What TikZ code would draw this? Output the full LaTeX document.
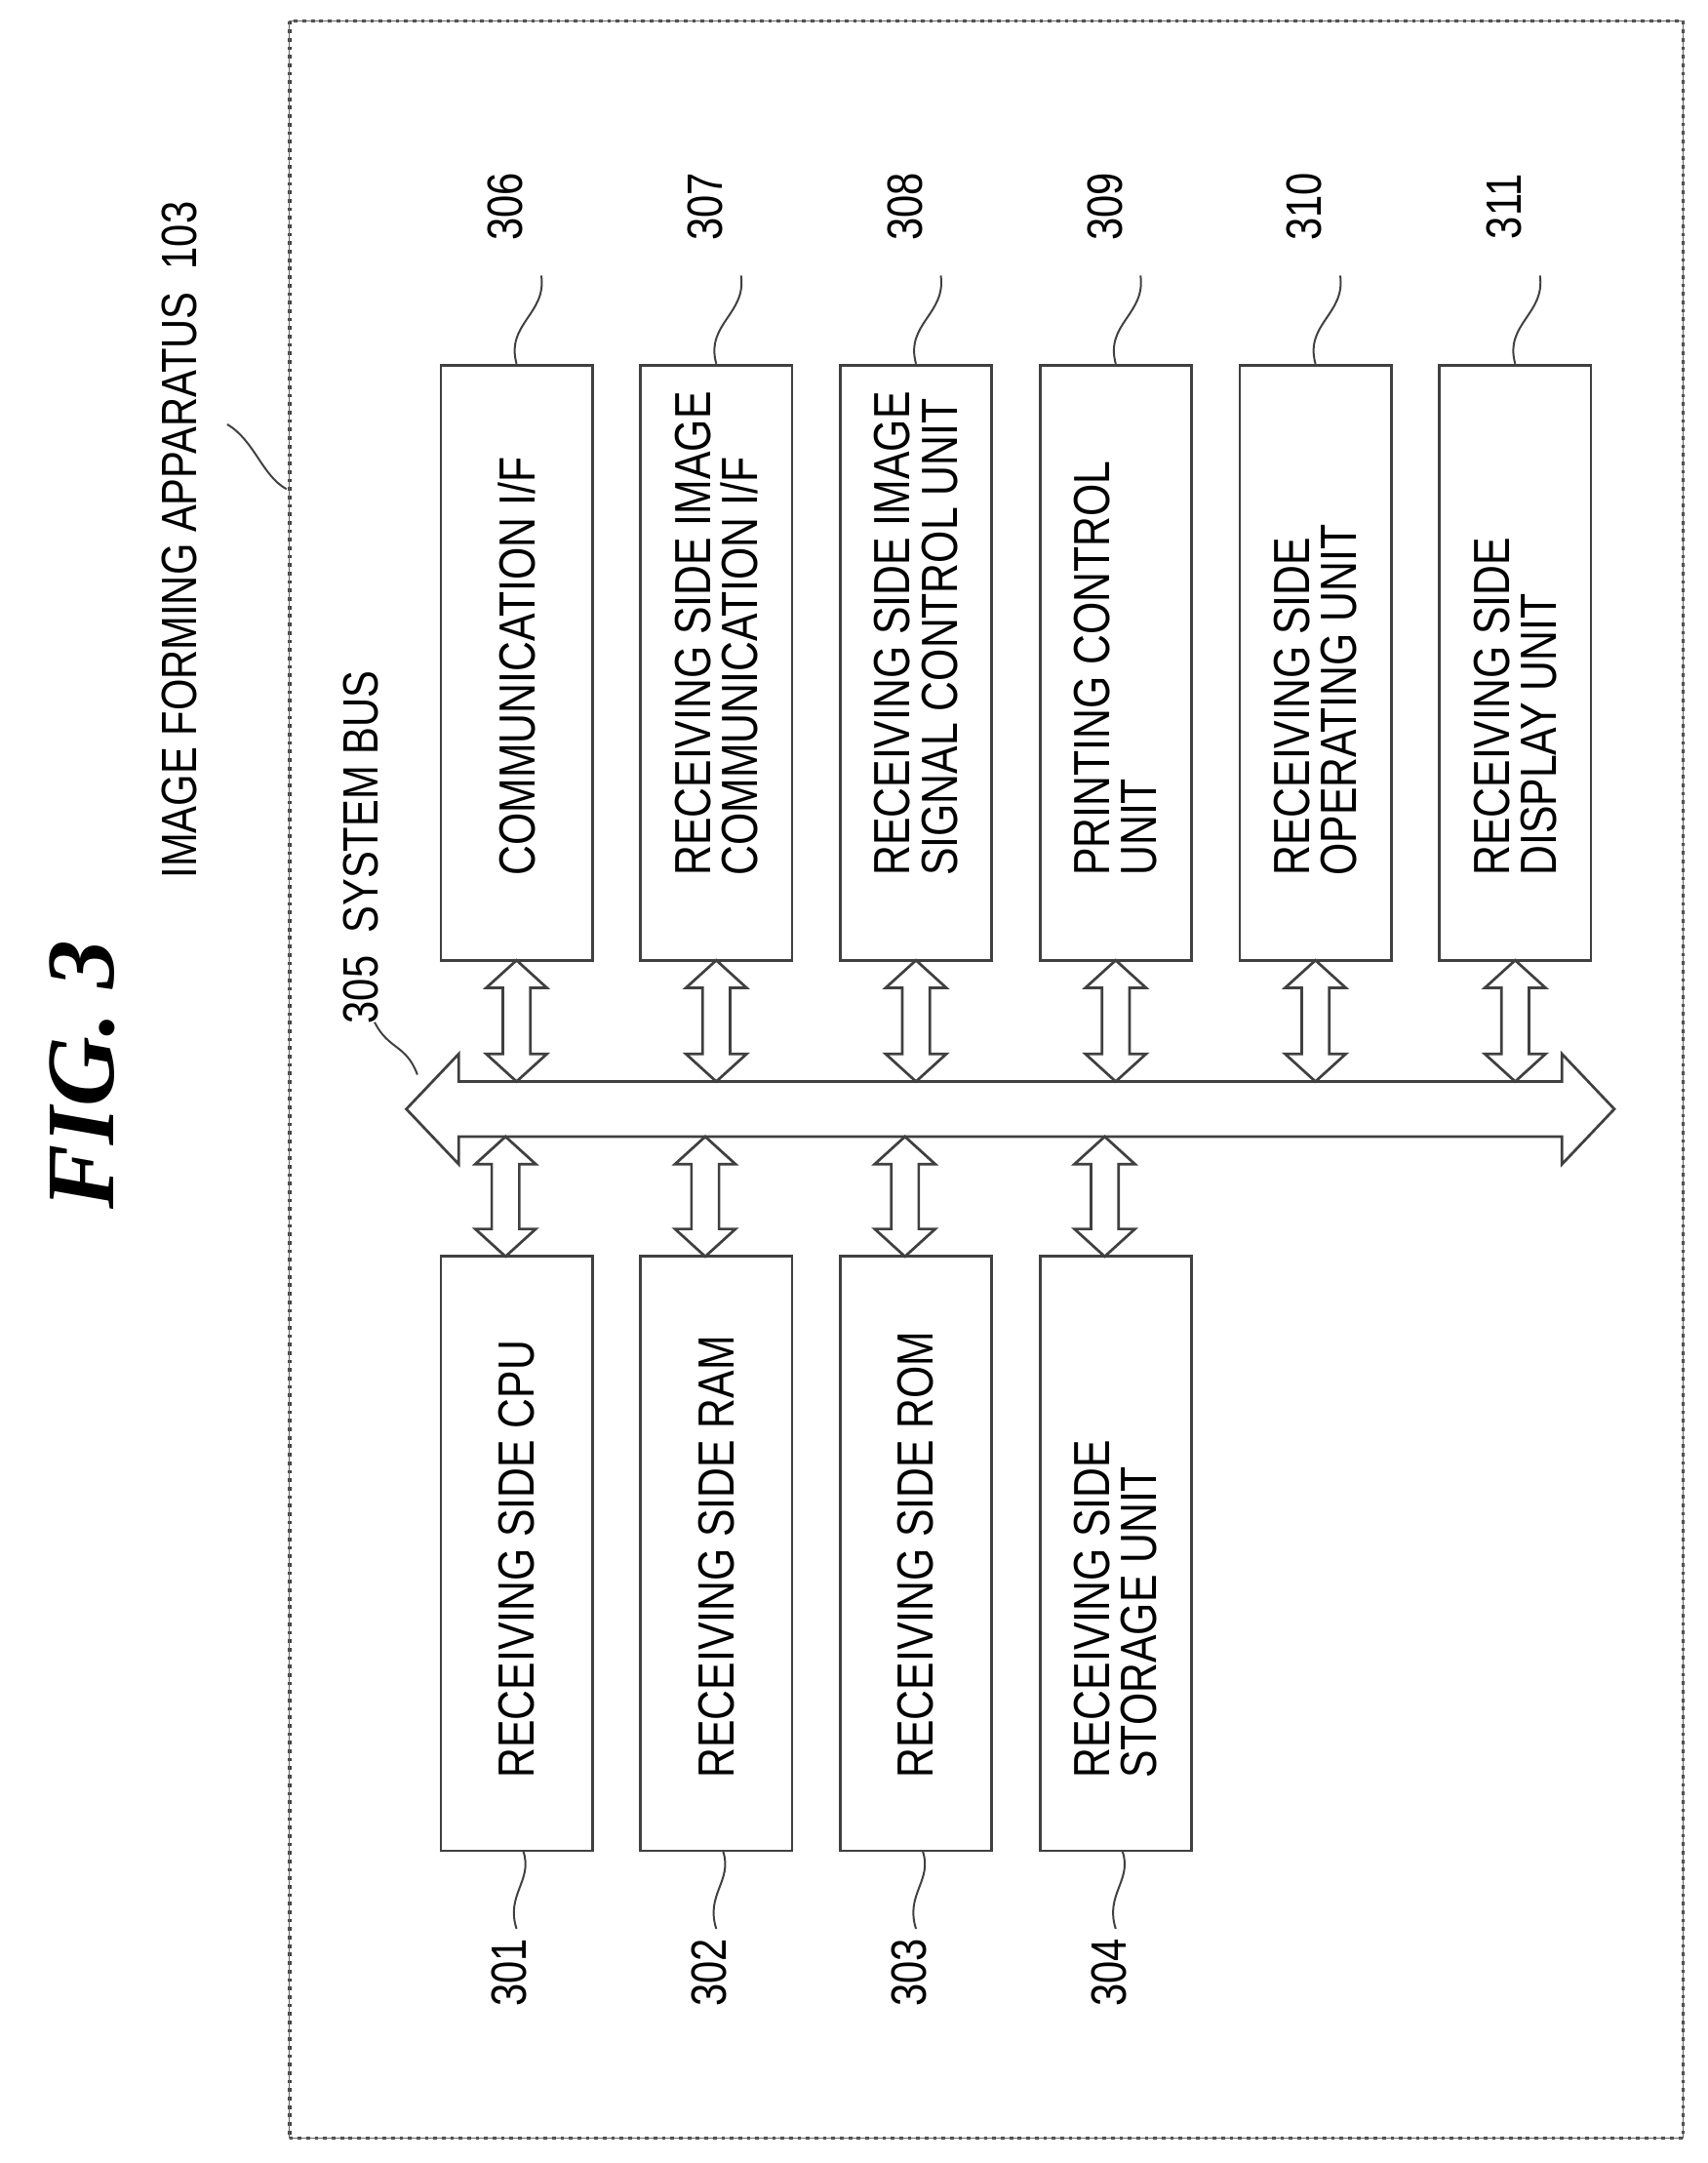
\documentclass[tikz,border=0pt]{standalone}
\usepackage{fontspec}
\setmainfont{Liberation Sans}[FakeStretch=0.82]
\newfontfamily\figfont{Liberation Serif}
\begin{document}
\begin{tikzpicture}[x=0.02cm,y=-0.02cm,
  ln/.style={draw=black!75,line width=1.1pt},
  box/.style={ln,rectangle,rotate=90,minimum width=8.64cm,minimum height=2.2cm,inner sep=0pt},
  txt/.style={rotate=90,anchor=west,align=left,font=\fontsize{21}{19.5}\selectfont,inner sep=0pt},
  num/.style={rotate=90,font=\fontsize{20.5}{22}\selectfont,inner sep=0pt},
  lead/.style={draw=black!75,line width=0.8pt}]
\useasboundingbox (0,0) rectangle (1240,1570);
\node[draw=black!75,line width=1.5pt,dotted,minimum width=20.24cm,minimum height=30.74cm,inner sep=0pt] (frame) at (716,783.5) {};
\node[draw=black!60,line width=0.6pt,minimum width=20.24cm,minimum height=30.74cm,inner sep=0pt] (frame2) at (716,783.5) {};
\node[rotate=90,font=\figfont\fontsize{40}{44}\selectfont\bfseries\itshape] (fig) at (60,780) {FIG. 3};
\node[num] (ifa) at (130,392) {IMAGE FORMING APPARATUS\ \ 103};
\coordinate (fl) at (208,355);
\draw[lead] (fl) .. controls (190,345) and (185,320) .. (165,308);
% bus
\draw[ln] (295,805) -- (333,765) -- (333,785) -- (1134,785) -- (1134,765) -- (1172,805)
  -- (1134,845) -- (1134,825) -- (333,825) -- (333,845) -- cycle;
\node[num] (n305) at (262,615) {305\ \ SYSTEM BUS};
\draw[lead] (272,742) .. controls (282,762) and (295,758) .. (303,780);
% top boxes
\foreach \i/\x/\t/\n in {1/375/{COMMUNICATION I/F}/306,
  2/520/{RECEIVING SIDE IMAGE\\COMMUNICATION I/F}/307,
  3/665/{RECEIVING SIDE IMAGE\\SIGNAL CONTROL UNIT}/308,
  4/810/{PRINTING CONTROL\\UNIT}/309,
  5/955/{RECEIVING SIDE\\OPERATING UNIT}/310,
  6/1100/{RECEIVING SIDE\\DISPLAY UNIT}/311}{
  \node[box] (t\i) at (\x,481) {};
  \node[txt] (tt\i) at (\x,636) {\t};
  \node[num] (tn\i) at (\x-8,150) {\n};
  \draw[ln] (\x,697) -- (\x+22,717) -- (\x+10,717) -- (\x+10,765) -- (\x+22,765) -- (\x,785)
    -- (\x-22,765) -- (\x-10,765) -- (\x-10,717) -- (\x-22,717) -- cycle;
  \draw[lead] (\x,264) .. controls (\x-8,235) and (\x+22,228) .. (\x+18,200);
}
% bottom boxes
\foreach \i/\x/\t/\n in {1/375/{RECEIVING SIDE CPU}/301,
  2/520/{RECEIVING SIDE RAM}/302,
  3/665/{RECEIVING SIDE ROM}/303,
  4/810/{RECEIVING SIDE\\STORAGE UNIT}/304}{
  \node[box] (b\i) at (\x,1127.5) {};
  \node[txt] (bt\i) at (\x,1291) {\t};
  \node[num] (bn\i) at (\x-5,1432) {\n};
  \draw[ln] (\x-8,825) -- (\x+14,845) -- (\x+2,845) -- (\x+2,892) -- (\x+14,892) -- (\x-8,912)
    -- (\x-30,892) -- (\x-18,892) -- (\x-18,845) -- (\x-30,845) -- cycle;
  \draw[lead] (\x+5,1344) .. controls (\x+12,1365) and (\x-8,1375) .. (\x,1400);
}
\end{tikzpicture}
\end{document}
